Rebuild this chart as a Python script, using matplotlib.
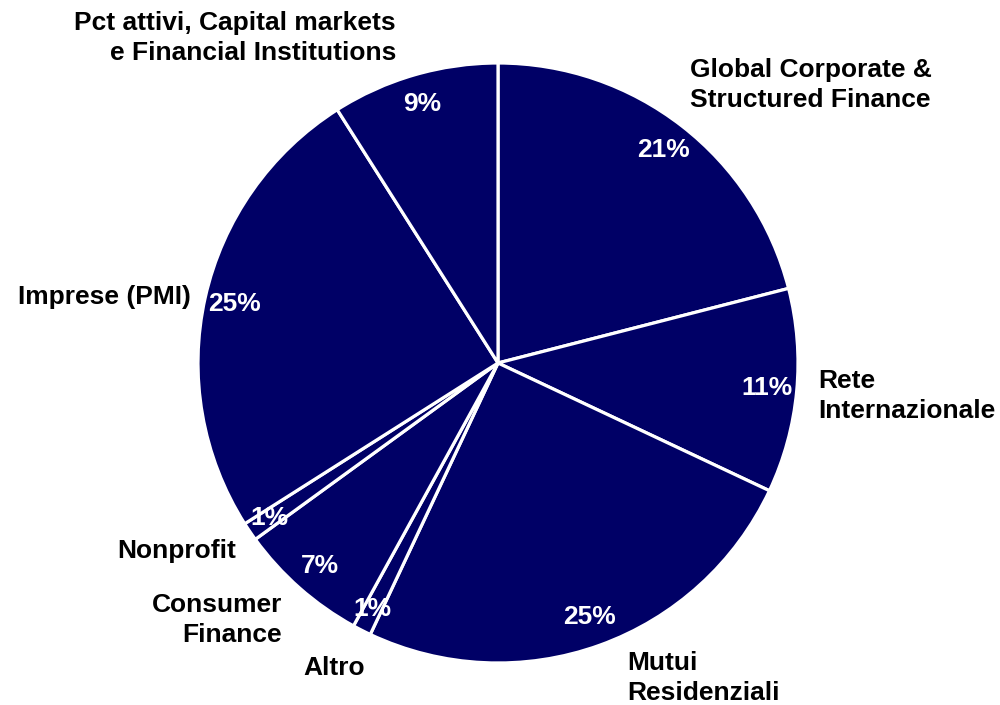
import matplotlib.pyplot as plt
import matplotlib.font_manager as fm
import numpy as np

plt.rcParams['font.family'] = ['Liberation Sans', 'DejaVu Sans']

# dati
segmenti = ['Global Corporate &\nStructured Finance', 'Rete\nInternazionale',
            'Mutui\nResidenziali', 'Altro', 'Consumer\nFinance', 'Nonprofit',
            'Imprese (PMI)', 'Pct attivi, Capital markets\ne Financial Institutions']
quote = [21, 11, 25, 1, 7, 1, 25, 9]
etichette_pct = ['21%', '11%', '25%', '1%', '7%', '1%', '25%', '9%']

# posizione (px) e allineamento delle etichette esterne
pos_etichette = [(690, 85, 'left'), (818, 396, 'left'), (627, 678, 'left'),
                 (303, 668, 'left'), (282, 620, 'right'), (236, 551, 'right'),
                 (191, 297, 'right'), (396, 38, 'right')]

# font Arial-like in grassetto
file_bold = [f for f in fm.findSystemFonts() if f.endswith('LiberationSans-Bold.ttf')]
if file_bold:
    fp = fm.FontProperties(fname=file_bold[0], size=19)
else:
    fp = fm.FontProperties(family='Liberation Sans', weight='bold', size=19)

W, H = 1000, 705
fig = plt.figure(figsize=(W / 100, H / 100), dpi=100)
ax = fig.add_axes([0, 0, 1, 1])

cx, cy, r = 498, H - 363, 300
wedges, _ = ax.pie(quote, center=(cx, cy), radius=r, startangle=90, counterclock=False,
                   colors=['#000066'] * len(quote),
                   wedgeprops=dict(edgecolor='white', linewidth=2.3), frame=True)
ax.set_xlim(0, W)
ax.set_ylim(0, H)
ax.set_aspect('equal')
ax.axis('off')

# percentuali dentro le fette
for w, t in zip(wedges, etichette_pct):
    ang = np.deg2rad((w.theta1 + w.theta2) / 2)
    d = 0.92 if t == '1%' else 0.9
    x = cx + d * r * np.cos(ang)
    y = cy + d * r * np.sin(ang)
    ax.text(x, y, t, color='white', fontproperties=fp, ha='center', va='center')

for nome, (x, y, al) in zip(segmenti, pos_etichette):
    ax.text(x, H - y, nome, color='black', fontproperties=fp,
            ha=al, va='center', multialignment=al, linespacing=1.3)

fig.savefig('out.png', dpi=100)
